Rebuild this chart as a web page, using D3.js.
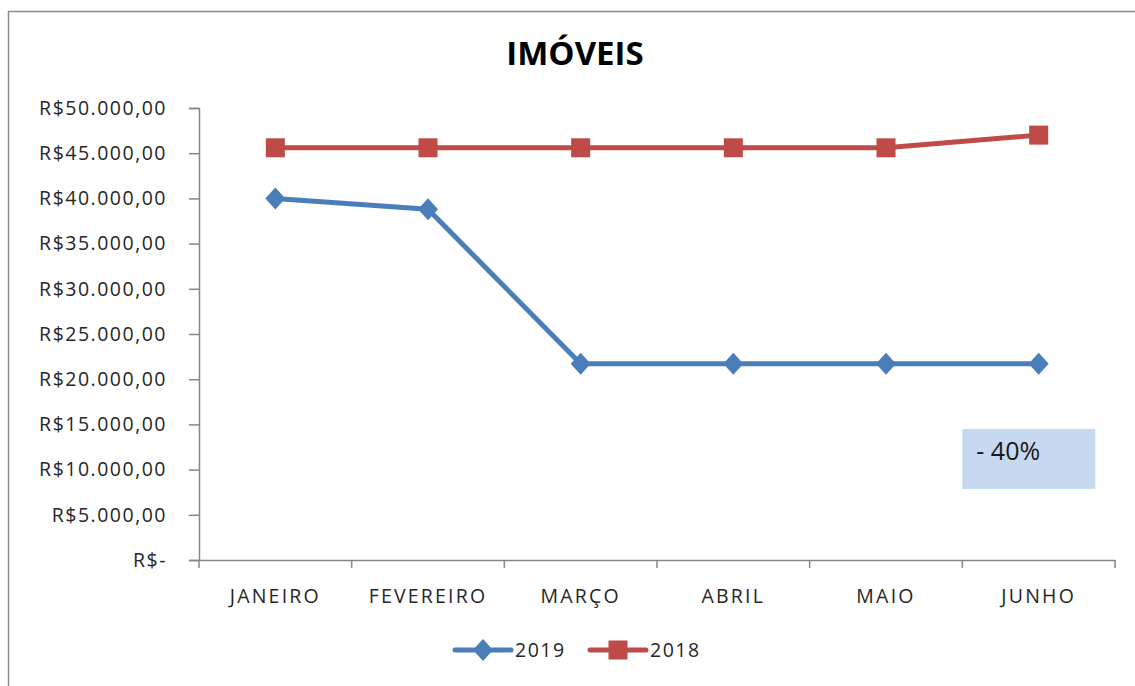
<!DOCTYPE html>
<html>
<head>
<meta charset="utf-8">
<script src="https://cdn.jsdelivr.net/npm/d3@7"></script>
<style>
  body { margin: 0; background: #fff; }
  text { font-family: "Open Sans", sans-serif; fill: #262626; }
</style>
</head>
<body>
<svg class="chart" width="1135" height="686"></svg>
<script>
// Data
const months = ['JANEIRO', 'FEVEREIRO', 'MARÇO', 'ABRIL', 'MAIO', 'JUNHO'];
const values2019 = [40000, 38800, 21700, 21700, 21700, 21700];
const values2018 = [45600, 45600, 45600, 45600, 45600, 47000];
const yTicks = [0, 5000, 10000, 15000, 20000, 25000, 30000, 35000, 40000, 45000, 50000];
const seriesNames = ['2019', '2018'];
const note = '- 40%';

const blue = '#4a7ebb';
const red = '#be4b48';
const axisGrey = '#868686';

// Margins for the plot area
var margin = { top: 108, right: 20, bottom: 126, left: 199 };

var svg = d3.select('.chart');
var width = svg.attr('width') - margin.left - margin.right;   // 916
var height = svg.attr('height') - margin.top - margin.bottom; // 452

// outer chart border (right and bottom cut off in the picture)
svg.append('rect')
    .attr('x', 8.5).attr('y', 11.5)
    .attr('width', 1200).attr('height', 800)
    .attr('fill', 'none')
    .attr('stroke', '#8c8c8c')
    .attr('stroke-width', 1.5);

// title
svg.append('text')
    .attr('x', 575).attr('y', 65)
    .attr('text-anchor', 'middle')
    .style('font-size', '33px')
    .style('font-weight', 'bold')
    .style('fill', '#000')
    .text('IMÓVEIS');

var x = d3.scaleBand()
    .domain(months)
    .range([0, width]);

var y = d3.scaleLinear()
    .domain([0, 50000])
    .range([height, 0]);

var g = svg.append('g')
    .attr('transform', 'translate(' + margin.left + ',' + margin.top + ')');

function money(d) {
    if (d === 0) return 'R$-';
    return 'R$' + d3.format(',.2f')(d).replace(/,/g, '#').replace('.', ',').replace(/#/g, '.');
}

// y axis
var yAxis = g.append('g')
    .attr('class', 'axis')
    .call(d3.axisLeft(y).tickValues(yTicks).tickFormat(money).tickSize(10).tickPadding(22));

// x axis with ticks at the band edges
var xAxis = g.append('g')
    .attr('class', 'axis')
    .attr('transform', 'translate(0,' + height + ')')
    .call(d3.axisBottom(x).tickSize(0).tickPadding(29));

var edges = months.map(m => x(m)).concat([width]);
xAxis.selectAll('.edge')
    .data(edges)
    .enter().append('line')
    .attr('class', 'edge')
    .attr('x1', d => d).attr('x2', d => d)
    .attr('y1', 0).attr('y2', 8)
    .attr('stroke', axisGrey)
    .attr('stroke-width', 1.5);

g.selectAll('.axis path').attr('stroke', axisGrey).attr('stroke-width', 1.5);
g.selectAll('.axis .tick line').attr('stroke', axisGrey).attr('stroke-width', 1.5);
g.selectAll('.axis text')
    .style('font-size', '19.5px')
    .style('letter-spacing', '1.5px')
    .style('fill', '#262626')
    .attr('font-family', null);
xAxis.selectAll('.tick text').style('letter-spacing', '2.2px');

var cx = d => x(d) + x.bandwidth() / 2;

var line = d3.line()
    .x((d, i) => cx(months[i]))
    .y(d => y(d));

// note box
g.append('rect')
    .attr('x', x('JUNHO')).attr('y', y(14500))
    .attr('width', 133).attr('height', 60)
    .attr('fill', '#c6d9f1');
g.append('text')
    .attr('x', x('JUNHO') + 14).attr('y', y(14500) + 31)
    .style('font-size', '25px')
    .style('fill', '#1a1a1a')
    .text(note);

// 2018 series
g.append('path')
    .datum(values2018)
    .attr('d', line)
    .attr('fill', 'none')
    .attr('stroke', red)
    .attr('stroke-width', 5)
    .attr('stroke-linejoin', 'round');

g.selectAll('.sq')
    .data(values2018)
    .enter().append('rect')
    .attr('class', 'sq')
    .attr('x', (d, i) => cx(months[i]) - 9.5)
    .attr('y', d => y(d) - 9.5)
    .attr('width', 19).attr('height', 19)
    .attr('fill', red);

// 2019 series
g.append('path')
    .datum(values2019)
    .attr('d', line)
    .attr('fill', 'none')
    .attr('stroke', blue)
    .attr('stroke-width', 5)
    .attr('stroke-linejoin', 'round');

// diamond marker, about 20 wide and 22 tall
var diamond = 'M0,-11L10,0L0,11L-10,0Z';
g.selectAll('.dm')
    .data(values2019)
    .enter().append('path')
    .attr('class', 'dm')
    .attr('transform', (d, i) => 'translate(' + cx(months[i]) + ',' + y(d) + ')')
    .attr('d', diamond)
    .attr('fill', blue);

// legend
var legend = svg.append('g').attr('transform', 'translate(0,650)');
var legendItems = [
    { name: seriesNames[0], color: blue, x: 455, marker: 'diamond' },
    { name: seriesNames[1], color: red, x: 590, marker: 'square' }
];
legendItems.forEach(function (it) {
    legend.append('line')
        .attr('x1', it.x).attr('x2', it.x + 56)
        .attr('y1', 0).attr('y2', 0)
        .attr('stroke', it.color)
        .attr('stroke-width', 5)
        .attr('stroke-linecap', 'round');
    if (it.marker === 'diamond') {
        legend.append('path')
            .attr('transform', 'translate(' + (it.x + 28) + ',0)')
            .attr('d', diamond)
            .attr('fill', it.color);
    } else {
        legend.append('rect')
            .attr('x', it.x + 18.5).attr('y', -9.5)
            .attr('width', 19).attr('height', 19)
            .attr('fill', it.color);
    }
    legend.append('text')
        .attr('x', it.x + 60).attr('y', 0)
        .attr('dy', '0.35em')
        .style('font-size', '19.5px')
        .style('letter-spacing', '1.5px')
        .text(it.name);
});
</script>
</body>
</html>
